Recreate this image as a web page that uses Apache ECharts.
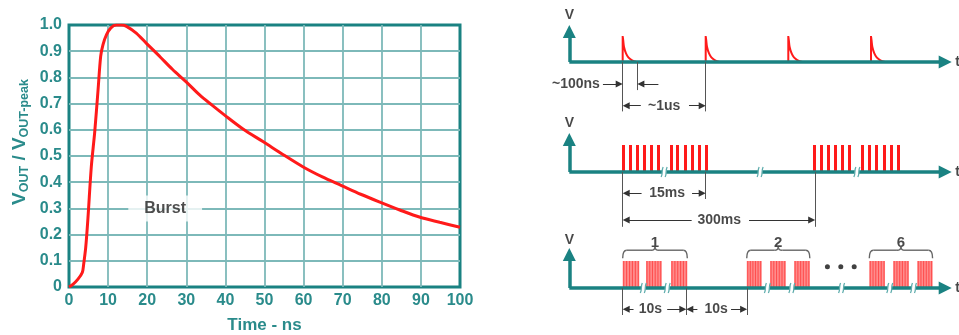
<!DOCTYPE html>
<html><head><meta charset="utf-8">
<script src="https://cdn.jsdelivr.net/npm/echarts@6/dist/echarts.min.js"></script>
<style>html,body{margin:0;padding:0;background:#fff}#c{width:959px;height:335px}</style>
</head><body><div id="c"></div><script>
// ---------------- Left chart: normalised burst waveform ----------------
const timeNs = [0,1,2.3,3.4,3.75,4.27,4.86,5.7,6.57,7.42,8.1,8.7,9.6,10.7,12.1,13.4,14.7,17.2,19.8,23.2,26.5,29.9,33.4,36.5,39.8,44.5,49.7,54.8,59.9,64.8,69.7,74.6,79.5,84.6,89.8,94.8,100];
const voutRatio = [0,0.01,0.03,0.055,0.087,0.15,0.266,0.458,0.59,0.75,0.88,0.925,0.963,0.989,1.0,1.0,0.995,0.969,0.93,0.88,0.83,0.784,0.733,0.695,0.656,0.603,0.554,0.505,0.458,0.42,0.387,0.354,0.324,0.294,0.266,0.247,0.228];
const xTickStep = 10, xMin = 0, xMax = 100;
const yTickStep = 0.1, yMin = 0, yMax = 1;
const burstLabelText = ['Burst'];
const burstLabelPos = [[24.6, 0.3]];

// ---------------- Right diagrams (schematic units: x 0-100, pulse height 1) ----------------
// Diagram 1: single transients
const d1PulseStarts = [13.96, 35.67, 57.27, 78.9];
const d1DecayOffsets = [0, 0.15, 0.35, 0.87, 1.48, 2.35, 3.66];
const d1DecayLevels = [1, 0.82, 0.58, 0.33, 0.18, 0.076, 0];
const d1ExtX = [13.96, 17.8, 35.67];
const d1ExtBottom = [-1.9, -1.08, -1.9];
const d1ArrowFrom = [8.8, 23.3, 18.7, 31.3];
const d1ArrowTo = [13.96, 17.8, 13.96, 35.67];
const d1ArrowY = [-0.846, -0.846, -1.68, -1.68];
const d1Texts = ['~100ns', '~1us'];
const d1TextX = [8.0, 24.8];
const d1TextY = [-0.846, -1.68];
const d1TextAlign = ['right', 'center'];
const d1VTip = 1.42, d1VLabelY = 1.81;

// Diagram 2: bursts of transients
const d2Bars = [14.3,16.1,17.9,19.6,21.4,23.2, 26.6,28.4,30.3,32.1,34.0,35.8, 64.0,65.9,67.8,69.6,71.5,73.4, 76.6,78.5,80.4,82.3,84.2,86.0];
const d2Breaks = [24.8, 49.9, 75.2];
const d2ExtX = [13.96, 35.67, 64.3];
const d2ExtBottom = [-2.03, -1.0, -2.03];
const d2ArrowFrom = [18.9, 32.1, 32.0, 47.0];
const d2ArrowTo = [13.96, 35.67, 13.96, 64.3];
const d2ArrowY = [-0.79, -0.79, -1.78, -1.78];
const d2Texts = ['15ms', '300ms'];
const d2TextX = [25.6, 39.2];
const d2TextY = [-0.79, -1.78];
const d2VTip = 1.44, d2VLabelY = 1.81;

// Diagram 3: groups of bursts
const d3BurstStarts = [13.96, 20.06, 26.6, 46.4, 52.5, 58.8, 78.45, 84.7, 91.0];
const d3BurstEnds = [18.3, 24.16, 30.86, 50.3, 56.6, 62.9, 82.56, 88.8, 95.0];
const d3Breaks = [19.35, 25.6, 51.8, 58.2, 71.2, 83.8, 90.0];
const d3Dots = [67.5, 71.0, 74.5];
const d3DotY = 0.79;
const d3BraceStarts = [13.96, 46.4, 78.45];
const d3BraceEnds = [30.86, 62.9, 95.0];
const d3BraceLabels = ['1', '2', '6'];
const d3ExtX = [13.96, 30.6, 46.5];
const d3ExtBottom = [-1.0, -1.0, -1.0];
const d3ArrowFrom = [16.8, 25.6, 33.5, 42.3];
const d3ArrowTo = [13.96, 30.6, 30.6, 46.5];
const d3ArrowY = [-0.79, -0.79, -0.79, -0.79];
const d3Texts = ['10s', '10s'];
const d3TextX = [21.2, 38.4];
const d3TextY = [-0.79, -0.79];
const d3VTip = 1.48, d3VLabelY = 1.76;

// ---------------- styles ----------------
const TEAL = '#1a8282';
const TEAL_TEXT = '#2a8b8b';
const TEAL_GRID = '#7db9b9';
const RED = '#ff1a1a';
const FONT = '"Liberation Sans", Arial, sans-serif';
const DIM = '#555';

const chart = echarts.init(document.getElementById('c'), null, {renderer: 'canvas'});

const RL = 569.3, RW = 382.4;
const PX_X = RW / 100;                 // px per schematic x unit
const PX_Y = [0, 26, 27, 27];          // px per schematic y unit per grid
const AXIS_HEAD = 13, DIM_HEAD = 7;    // arrow head sizes (px)

const grids = [
  {left: 69, top: 25, width: 391, height: 262, show: true, borderColor: TEAL, borderWidth: 3, outerBoundsMode: 'none'},
  {left: RL, width: RW, top: 10, height: 104, outerBoundsMode: 'none'},
  {left: RL, width: RW, top: 118, height: 113.4, outerBoundsMode: 'none'},
  {left: RL, width: RW, top: 234, height: 86.4, outerBoundsMode: 'none'}
];
const xAxes = [
  {gridIndex: 0, type: 'value', min: xMin, max: xMax, interval: xTickStep,
   name: 'Time - ns', nameLocation: 'middle', nameGap: 30,
   nameTextStyle: {color: TEAL_TEXT, fontSize: 17, fontWeight: 'bold', fontFamily: FONT},
   axisLine: {show: false}, axisTick: {show: false},
   axisLabel: {color: TEAL_TEXT, fontSize: 16, fontWeight: 'bold', fontFamily: FONT, margin: 6},
   splitLine: {show: true, showMinLine: false, showMaxLine: false, lineStyle: {color: TEAL_GRID, width: 1.8}}},
  {gridIndex: 1, type: 'value', min: 0, max: 100, show: false},
  {gridIndex: 2, type: 'value', min: 0, max: 100, show: false},
  {gridIndex: 3, type: 'value', min: 0, max: 100, show: false}
];
const yAxes = [
  {gridIndex: 0, type: 'value', min: yMin, max: yMax, interval: yTickStep,
   name: '{v|V}{s|OUT}{v| / V}{s|OUT-peak}', nameLocation: 'middle', nameGap: 40, nameRotate: 90,
   nameTextStyle: {color: TEAL_TEXT, fontFamily: FONT, fontWeight: 'bold', padding: [0, 0, 0, 28],
     rich: {v: {fontSize: 19, fontWeight: 'bold', color: TEAL_TEXT, fontFamily: FONT, verticalAlign: 'bottom'},
            s: {fontSize: 12.5, fontWeight: 'bold', color: TEAL_TEXT, fontFamily: FONT, verticalAlign: 'bottom', padding: [0,0,-2,0]}}},
   axisLine: {show: false}, axisTick: {show: false},
   axisLabel: {color: TEAL_TEXT, fontSize: 16, fontWeight: 'bold', fontFamily: FONT, margin: 7,
     formatter: v => (v === 0 ? '0' : v.toFixed(1))},
   splitLine: {show: true, showMinLine: false, showMaxLine: false, lineStyle: {color: TEAL_GRID, width: 1.8}}},
  {gridIndex: 1, type: 'value', min: -2, max: 2, show: false},
  {gridIndex: 2, type: 'value', min: -2.2, max: 2, show: false},
  {gridIndex: 3, type: 'value', min: -1.2, max: 2, show: false}
];

const series = [];
// left curve
series.push({type: 'line', xAxisIndex: 0, yAxisIndex: 0, z: 5, smooth: 0.3, symbol: 'none',
  data: timeNs.map((t, i) => [t, voutRatio[i]]), lineStyle: {color: RED, width: 3}});
series.push({type: 'scatter', xAxisIndex: 0, yAxisIndex: 0, z: 4, symbolSize: 0, silent: true,
  data: burstLabelPos.map((p, i) => ({value: p, name: burstLabelText[i]})),
  label: {show: true, position: 'inside', formatter: '{b}', color: '#222', fontSize: 16, fontWeight: 'bold',
    fontFamily: FONT, backgroundColor: '#fff', padding: [5, 16, 5, 16]}});

// markLine arrow symbols are centred on the end point: pull the end back by half a head so the tip lands on the value
function headBackX(from, tip, head) { return tip - Math.sign(tip - from) * (head / 2) / PX_X; }
function headBackY(gi, tip, head) { return tip - (head / 2) / PX_Y[gi]; }

function textLabelSeries(gi, texts, xs, ys, aligns, extX, extB, arrF, arrT, arrY, vTip, vLabelY) {
  const data = texts.map((t, i) => ({value: [xs[i], ys[i]], name: t,
    label: {align: aligns ? aligns[i] : 'center'}}));
  data.push({value: [0, vLabelY], name: 'V', label: {align: 'center'}});
  data.push({value: [100.9, 0], name: 't', label: {align: 'left'}});
  const ml = [];
  ml.push([{coord: [0, 0], symbol: 'none', lineStyle: {color: TEAL, width: 3.5, type: 'solid'}},
           {coord: [0, headBackY(gi, vTip, AXIS_HEAD)], symbol: 'triangle', symbolSize: AXIS_HEAD}]);
  ml.push([{coord: [0, 0], symbol: 'none', lineStyle: {color: TEAL, width: 3.5, type: 'solid'}},
           {coord: [headBackX(0, 100, AXIS_HEAD), 0], symbol: 'triangle', symbolSize: AXIS_HEAD}]);
  extX.forEach((x, i) => ml.push([{coord: [x, 0], symbol: 'none', lineStyle: {color: DIM, width: 1, type: 'solid'}},
                                  {coord: [x, extB[i]], symbol: 'none'}]));
  arrF.forEach((x, i) => ml.push([{coord: [x, arrY[i]], symbol: 'none', lineStyle: {color: '#333', width: 1, type: 'solid'}},
                                  {coord: [headBackX(x, arrT[i], DIM_HEAD), arrY[i]], symbol: 'triangle', symbolSize: DIM_HEAD}]));
  return {type: 'scatter', xAxisIndex: gi, yAxisIndex: gi, z: 3, symbolSize: 0, silent: true, clip: false,
    data: data,
    label: {show: true, position: [0, 0], verticalAlign: 'middle', formatter: '{b}', color: '#1a1a1a',
      fontSize: 14, fontWeight: 'bold', fontFamily: FONT},
    markLine: {silent: true, animation: false, symbol: ['none', 'triangle'], label: {show: false},
      emphasis: {disabled: true}, data: ml}};
}

series.push(textLabelSeries(1, d1Texts, d1TextX, d1TextY, d1TextAlign, d1ExtX, d1ExtBottom, d1ArrowFrom, d1ArrowTo, d1ArrowY, d1VTip, d1VLabelY));
series.push(textLabelSeries(2, d2Texts, d2TextX, d2TextY, null, d2ExtX, d2ExtBottom, d2ArrowFrom, d2ArrowTo, d2ArrowY, d2VTip, d2VLabelY));
series.push(textLabelSeries(3, d3Texts, d3TextX, d3TextY, null, d3ExtX, d3ExtBottom, d3ArrowFrom, d3ArrowTo, d3ArrowY, d3VTip, d3VLabelY));

// diagram 1 pulses
d1PulseStarts.forEach(s => {
  const pts = [[s, 0]].concat(d1DecayOffsets.map((o, k) => [s + o, d1DecayLevels[k]]));
  series.push({type: 'line', xAxisIndex: 1, yAxisIndex: 1, z: 2, smooth: 0.35, symbol: 'none', silent: true,
    data: pts, lineStyle: {color: RED, width: 2}});
});

// diagram 2 bars
series.push({type: 'custom', xAxisIndex: 2, yAxisIndex: 2, z: 2, silent: true,
  data: d2Bars.map(x => [x, 1]),
  renderItem: (params, api) => {
    const top = api.coord([api.value(0), api.value(1)]);
    const bot = api.coord([api.value(0), 0]);
    return {type: 'rect', shape: {x: Math.round(top[0] - 1.5), y: top[1], width: 3, height: bot[1] - top[1]},
      style: {fill: RED}};
  }});

// diagram 3 bursts
series.push({type: 'custom', xAxisIndex: 3, yAxisIndex: 3, z: 2, silent: true,
  data: d3BurstStarts.map((s, i) => [s, d3BurstEnds[i]]),
  renderItem: (params, api) => {
    const p0 = api.coord([api.value(0), 1]);
    const p1 = api.coord([api.value(1), 0]);
    const w = p1[0] - p0[0], h = p1[1] - p0[1];
    const ch = [{type: 'rect', shape: {x: p0[0], y: p0[1], width: w, height: h}, style: {fill: '#ff8c8c'}}];
    const n = 6;
    for (let i = 0; i < n; i++) {
      const x = p0[0] + 1 + (w - 2) * i / (n - 1);
      ch.push({type: 'line', shape: {x1: x, y1: p0[1], x2: x, y2: p1[1]}, style: {stroke: '#ff4f4f', lineWidth: 1.1}});
    }
    return {type: 'group', children: ch};
  }});

// axis break marks
function breakSeries(gi, xs) {
  return {type: 'custom', xAxisIndex: gi, yAxisIndex: gi, z: 8, silent: true,
    data: xs.map(x => [x, 0]),
    renderItem: (params, api) => {
      const p = api.coord([api.value(0), 0]);
      const x = p[0], y = p[1];
      return {type: 'group', children: [
        {type: 'rect', shape: {x: x - 2, y: y - 4, width: 4, height: 8}, style: {fill: '#fff'}},
        {type: 'bezierCurve', shape: {x1: x - 3, y1: y + 5, cpx1: x - 1, cpy1: y + 1, cpx2: x - 3, cpy2: y - 1, x2: x - 1, y2: y - 5},
          style: {stroke: '#5fadad', lineWidth: 1.3, fill: null}},
        {type: 'bezierCurve', shape: {x1: x + 1, y1: y + 5, cpx1: x + 3, cpy1: y + 1, cpx2: x + 1, cpy2: y - 1, x2: x + 3, y2: y - 5},
          style: {stroke: '#5fadad', lineWidth: 1.3, fill: null}}
      ]};
    }};
}
series.push(breakSeries(2, d2Breaks));
series.push(breakSeries(3, d3Breaks));

// braces over burst groups
series.push({type: 'custom', xAxisIndex: 3, yAxisIndex: 3, z: 3, silent: true,
  data: d3BraceStarts.map((s, i) => [s, d3BraceEnds[i]]),
  renderItem: (params, api) => {
    const a = api.coord([api.value(0), 1.1]);
    const b = api.coord([api.value(1), 1.1]);
    const yb = api.coord([0, 1.4])[1];
    const yp = api.coord([0, 1.52])[1];
    const cx = (a[0] + b[0]) / 2, r = 4;
    const st = {stroke: '#666', lineWidth: 1.4, fill: null};
    return {type: 'group', children: [
      {type: 'bezierCurve', shape: {x1: a[0], y1: a[1], cpx1: a[0], cpy1: yb, x2: a[0] + r, y2: yb}, style: st},
      {type: 'line', shape: {x1: a[0] + r, y1: yb, x2: cx - r, y2: yb}, style: st},
      {type: 'bezierCurve', shape: {x1: cx - r, y1: yb, cpx1: cx, cpy1: yb, x2: cx, y2: yp}, style: st},
      {type: 'bezierCurve', shape: {x1: cx, y1: yp, cpx1: cx, cpy1: yb, x2: cx + r, y2: yb}, style: st},
      {type: 'line', shape: {x1: cx + r, y1: yb, x2: b[0] - r, y2: yb}, style: st},
      {type: 'bezierCurve', shape: {x1: b[0] - r, y1: yb, cpx1: b[0], cpy1: yb, x2: b[0], y2: b[1]}, style: st}
    ]};
  }});
series.push({type: 'scatter', xAxisIndex: 3, yAxisIndex: 3, z: 3, symbolSize: 0, silent: true, clip: false,
  data: d3BraceStarts.map((s, i) => ({value: [(s + d3BraceEnds[i]) / 2, 1.68], name: d3BraceLabels[i]})),
  label: {show: true, position: [0, 0], align: 'center', verticalAlign: 'middle', formatter: '{b}', color: '#1a1a1a',
    fontSize: 15, fontWeight: 'bold', fontFamily: FONT}});
series.push({type: 'scatter', xAxisIndex: 3, yAxisIndex: 3, z: 3, symbol: 'circle', symbolSize: 5, silent: true,
  data: d3Dots.map(x => [x, d3DotY]), itemStyle: {color: '#111'}});

chart.setOption({
  animation: false,
  backgroundColor: '#fff',
  textStyle: {fontFamily: FONT},
  grid: grids, xAxis: xAxes, yAxis: yAxes, series: series
});
</script></body></html>
